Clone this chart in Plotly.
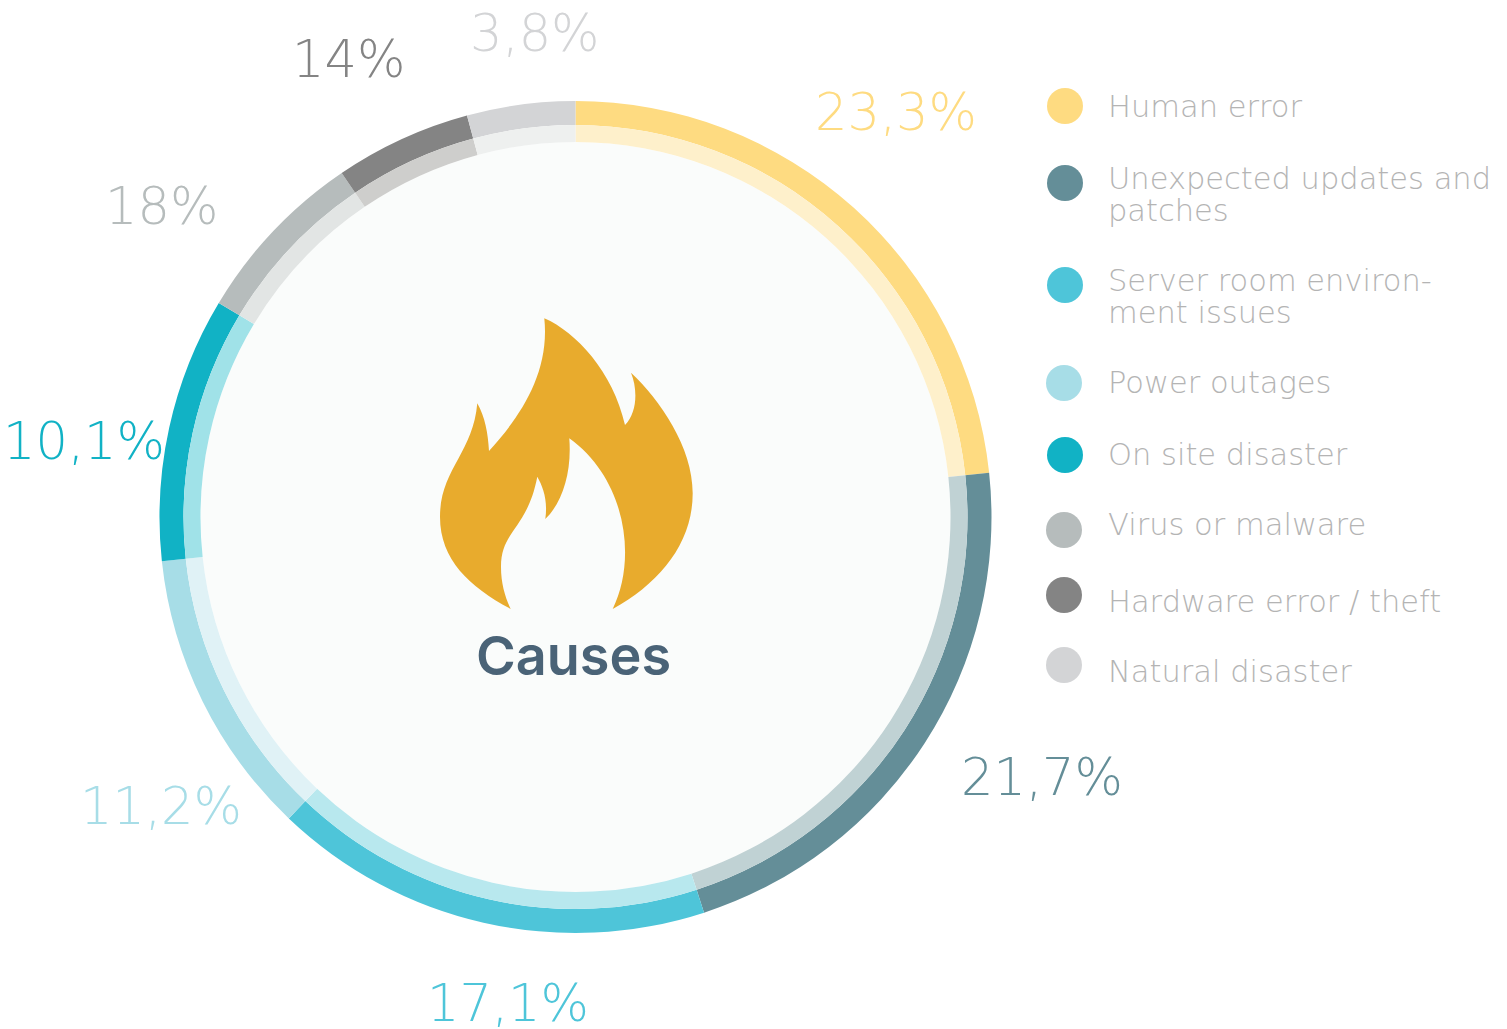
import plotly.graph_objects as go

W, H = 1507, 1029
# Arc shares as read from the ring (the printed labels do not sum to 100)
categories = ["Human error", "Unexpected updates and patches", "Server room environment issues",
              "Power outages", "On site disaster", "Virus or malware", "Hardware error / theft", "Natural disaster"]
arc_values = [23.3, 21.7, 17.1, 11.2, 10.3, 6.9, 5.3, 4.2]
printed_labels = ["23,3%", "21,7%", "17,1%", "11,2%", "10,1%", "18%", "14%", "3,8%"]
colors_outer = ["#fedb81", "#648e98", "#4ec5d9", "#a7dde7", "#11b2c5", "#b6bcbc", "#848484", "#d3d4d6"]
colors_inner = ["#fef0cb", "#c0d2d4", "#b8e8ee", "#e0f2f6", "#a0e2e8", "#e2e5e4", "#cececc", "#eef0ef"]
label_x = [896, 1042, 508, 161, 84, 161, 348, 535]
label_y = [112, 777, 1003, 806, 441, 206, 59, 33]
legend_dot_x = [1065, 1065, 1065, 1064, 1065, 1064, 1064, 1064]
legend_dot_y = [106, 183, 285, 383, 455, 530, 595, 665]
legend_lines = [("Human error", 106), ("Unexpected updates and", 178), ("patches", 210),
                ("Server room environ-", 280), ("ment issues", 312), ("Power outages", 382),
                ("On site disaster", 454), ("Virus or malware", 524),
                ("Hardware error / theft", 601), ("Natural disaster", 671)]
LEGEND_X = 1109
CX, CY, R_OUT, R_MID, R_IN = 575.5, 517, 416, 392, 375
FLAME = ("M544.3,318.3 C576,332 613,372 625,425 C637,413 638,390 631,372.7 "
         "C660,400 692.7,447 692.7,493.3 C692.7,543 660,583 612.7,609 "
         "C637,560 627,480 569.3,438.3 C572,473 562,503 545.3,519 "
         "C548,500 543,487 537.3,476.7 C527,530 501,530 501,567 "
         "C501,583 505,597 510.7,609 C470,587 440,560 440,516.7 "
         "C440,470 473,453 477.3,403.3 C485,417 488,433 489,451 "
         "C520,417 550,373 544.3,318.3 Z")

def dom(r):
    return dict(x=[(CX - r) / W, (CX + r) / W], y=[1 - (CY + r) / H, 1 - (CY - r) / H])

fig = go.Figure()
fig.add_trace(go.Scatter(x=legend_dot_x, y=legend_dot_y, mode="markers",
                         marker=dict(size=36, color=colors_outer, line=dict(width=0)),
                         hoverinfo="skip", showlegend=False))
fig.add_trace(go.Pie(labels=categories, values=arc_values, sort=False, direction="clockwise", rotation=0,
                     hole=R_MID / R_OUT, domain=dom(R_OUT), textinfo="none", showlegend=False,
                     marker=dict(colors=colors_outer, line=dict(width=0))))
fig.add_trace(go.Pie(labels=categories, values=arc_values, sort=False, direction="clockwise", rotation=0,
                     hole=R_IN / R_MID, domain=dom(R_MID), textinfo="none", showlegend=False,
                     marker=dict(colors=colors_inner, line=dict(width=0))))

FONT = "DejaVu Sans"
ann = []
for t, x, y, c in zip(printed_labels, label_x, label_y, colors_outer):
    ann.append(dict(x=x, y=y, text=t, showarrow=False, xref="x", yref="y", xanchor="center", yanchor="middle",
                    font=dict(family=FONT, size=51, color=c, weight=200)))
for t, y in legend_lines:
    ann.append(dict(x=LEGEND_X, y=y, text=t, showarrow=False, xref="x", yref="y", xanchor="left", yanchor="middle",
                    xshift=-3, font=dict(family=FONT, size=30.5, color="#b4b4b4", weight=200)))
ann.append(dict(x=573, y=655, text="Causes", showarrow=False, xref="x", yref="y", xanchor="center", yanchor="middle",
                font=dict(family="Inter", size=54, color="#4a6377", weight=600)))

fig.update_layout(
    width=W, height=H, margin=dict(l=0, r=0, t=0, b=0), paper_bgcolor="white", plot_bgcolor="white",
    xaxis=dict(range=[0, W], visible=False, fixedrange=True),
    yaxis=dict(range=[H, 0], visible=False, fixedrange=True),
    annotations=ann,
    shapes=[
        dict(type="circle", xref="x", yref="y", x0=CX - R_IN, x1=CX + R_IN, y0=CY - R_IN, y1=CY + R_IN,
             fillcolor="#fafcfb", line=dict(width=0), layer="below"),
        dict(type="path", xref="x", yref="y", path=FLAME, fillcolor="#e8ab2d", line=dict(width=0), layer="above"),
    ],
)
fig.write_html("out.html", config={"displayModeBar": False},
               post_script="document.body.style.margin='0';document.body.style.overflow='hidden';")
